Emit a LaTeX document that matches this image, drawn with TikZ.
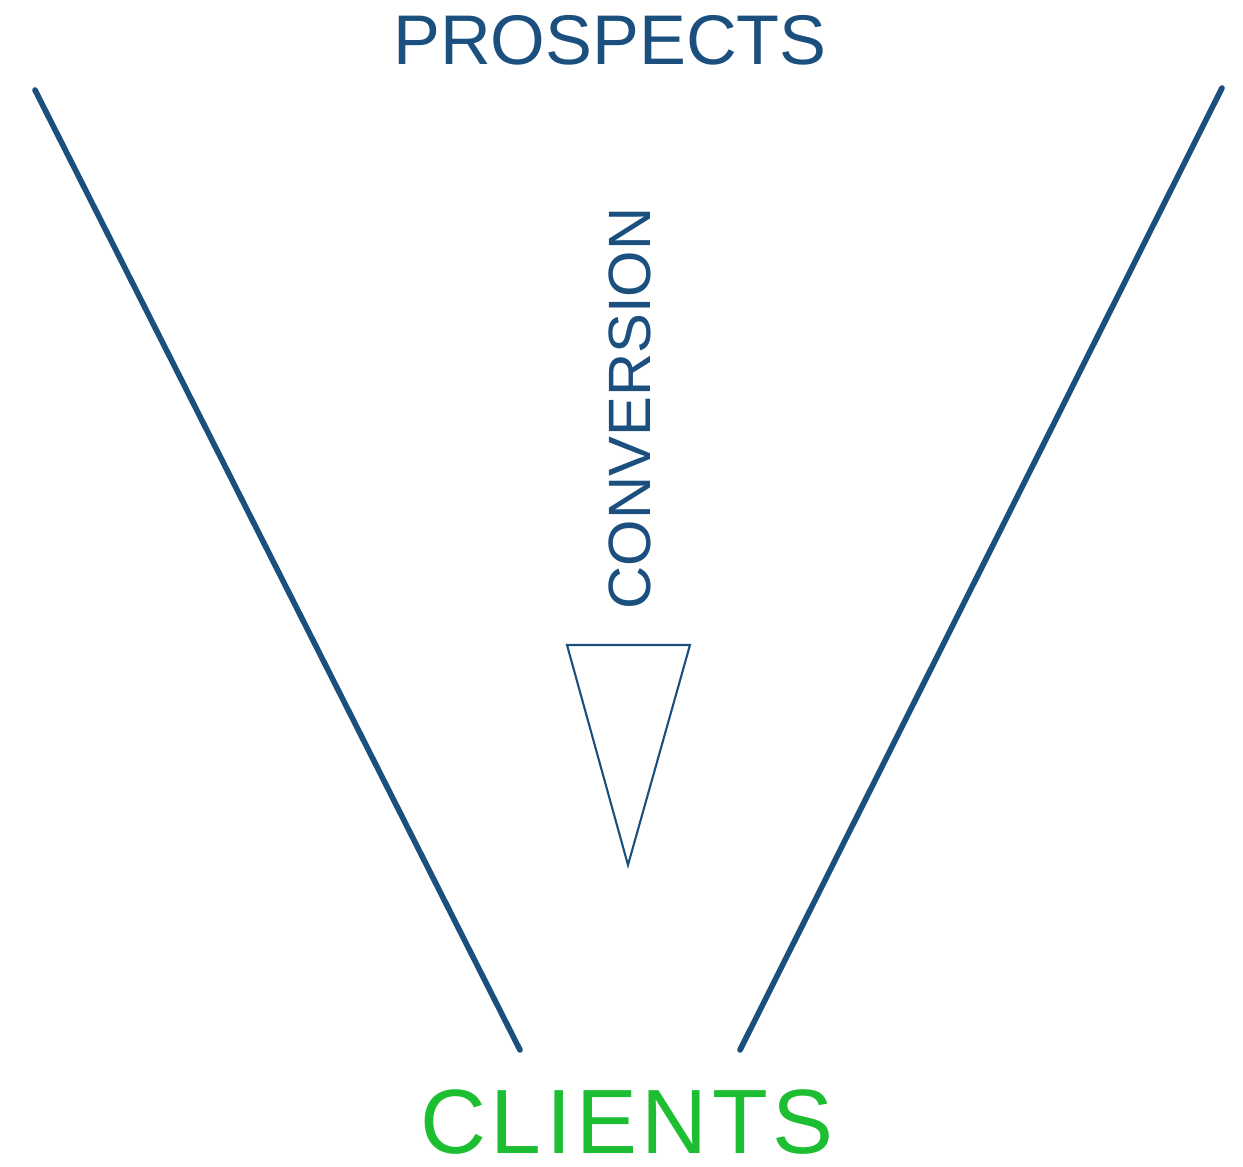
\documentclass[tikz,border=0pt]{standalone}
\usepackage{fontspec}
\setmainfont{Liberation Sans}
\usepackage{tikz}
\definecolor{navy}{HTML}{1B4F7E}
\definecolor{leaf}{HTML}{1DBE32}
\tikzset{
  wall/.style={draw=navy, line width=1.6pt, line cap=round},
  tip/.style={draw=navy, line width=0.6pt, line join=miter},
  stage/.style={text=navy, font=\fontsize{20}{24}\selectfont, inner sep=0pt},
  flow/.style={text=navy, font=\fontsize{17}{20}\selectfont, inner sep=0pt},
  goal/.style={text=leaf, font=\fontsize{26}{30}\selectfont\addfontfeature{LetterSpace=5}, inner sep=0pt, text depth=0pt},
}
\begin{document}
\begin{tikzpicture}
  \useasboundingbox (0,0) rectangle (12.43,-11.67);
  % funnel walls
  \coordinate (LT) at (0.35,-0.90);
  \coordinate (LB) at (5.20,-10.50);
  \coordinate (RT) at (12.22,-0.88);
  \coordinate (RB) at (7.40,-10.50);
  \draw[wall] (LT)--(LB);
  \draw[wall] (RT)--(RB);
  % labels
  \node[stage,anchor=base] (prospects) at (6.10,-0.65) {PROSPECTS};
  \node[flow,anchor=base,rotate=90] (conversion) at (6.50,-4.085) {CONVERSION};
  \node[goal,anchor=base] (clients) at (6.27,-11.54) {CLIENTS};
  % downward arrow head
  \coordinate (A) at (5.67,-6.45);
  \coordinate (B) at (6.90,-6.45);
  \coordinate (C) at (6.28,-8.65);
  \draw[tip] (A)--(B)--(C)--cycle;
\end{tikzpicture}
\end{document}
